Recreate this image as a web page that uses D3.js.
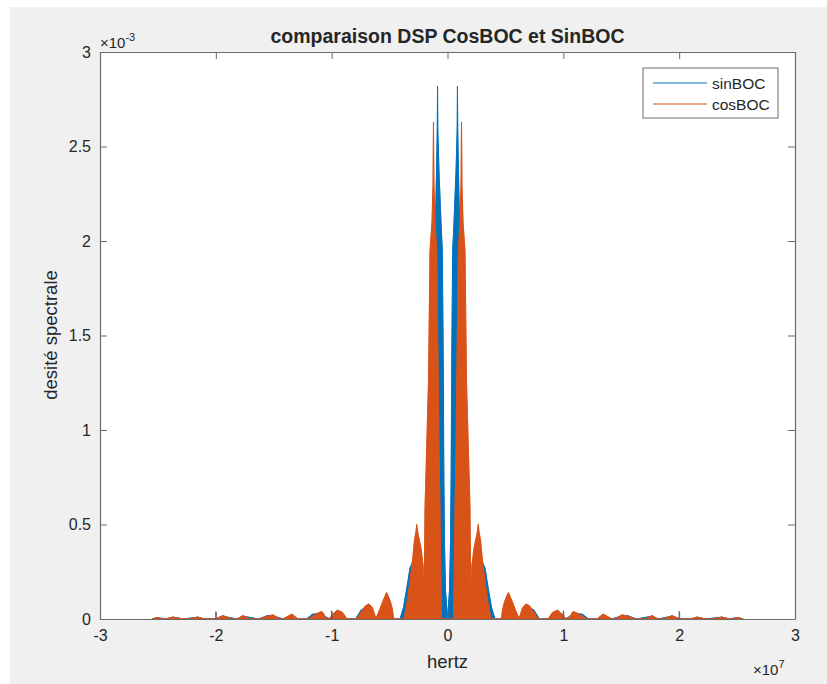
<!DOCTYPE html>
<html>
<head>
<meta charset="utf-8">
<script src="https://cdn.jsdelivr.net/npm/d3@7"></script>
<style>
  body { margin: 0; background: #ffffff; }
  text { font-family: "Liberation Sans", Arial, Helvetica, sans-serif; fill: #262626; }
</style>
</head>
<body>
<svg id="chart" width="827" height="684"></svg>
<script>
// frequency in MHz, spectral density in units of 1e-3
const sinBOC = [
    [-25.52, 0], [-25.04, 0.008], [-24.35, 0], [-23.70, 0.01], [-22.80, 0], [-21.55, 0.01], [-20.98, 0],
    [-20.08, 0], [-19.39, 0.015], [-18.18, 0], [-17.66, 0.015], [-16.32, 0], [-15.54, 0.018], [-15.07, 0.018],
    [-14.21, 0], [-13.43, 0.02], [-12.91, 0], [-12.18, 0], [-11.66, 0.025], [-11.05, 0.03], [-10.15, 0],
    [-9.50, 0.03], [-8.68, 0], [-7.94, 0], [-7.43, 0.05], [-6.91, 0.06], [-6.13, 0], [-5.70, 0.06],
    [-5.18, 0.08], [-4.66, 0], [-4.10, 0], [-3.80, 0.06], [-3.52, 0.16], [-3.24, 0.27], [-3.02, 0.3],
    [-2.76, 0.3], [-2.42, 0.15], [-2.12, 0], [-1.99, 0.1], [-1.73, 0.5], [-1.47, 1.0], [-1.21, 1.6],
    [-1.04, 2.1], [-0.95, 2.36], [-0.88, 2.6], [-0.86, 2.82], [-0.84, 2.6], [-0.73, 2.36], [-0.56, 2.1],
    [-0.45, 1.95], [-0.37, 1.4], [-0.32, 0.8], [-0.26, 0.4], [-0.17, 0.15], [0, 0],
    [0.17, 0.15], [0.26, 0.4], [0.32, 0.8], [0.37, 1.4], [0.45, 1.95], [0.56, 2.1], [0.73, 2.36],
    [0.84, 2.6], [0.86, 2.82], [0.88, 2.6], [0.95, 2.36], [1.04, 2.1], [1.21, 1.6], [1.47, 1.0],
    [1.73, 0.5], [1.99, 0.1], [2.12, 0], [2.42, 0.15], [2.76, 0.3], [3.02, 0.3], [3.24, 0.27],
    [3.52, 0.16], [3.80, 0.06], [4.10, 0], [4.66, 0], [5.18, 0.08], [5.70, 0.06], [6.13, 0],
    [6.91, 0.06], [7.43, 0.05], [7.94, 0], [8.68, 0], [9.50, 0.03], [10.15, 0], [11.05, 0.03],
    [11.66, 0.025], [12.18, 0], [12.91, 0], [13.43, 0.02], [14.21, 0], [15.07, 0.018], [15.54, 0.018],
    [16.32, 0], [17.66, 0.015], [18.18, 0], [19.39, 0.015], [20.08, 0], [20.98, 0], [21.55, 0.01],
    [22.28, 0], [23.70, 0.01], [24.35, 0], [25.04, 0.008], [25.52, 0]
]

const cosBOC = [
    [-25.52, 0], [-25.04, 0.008], [-24.61, 0], [-24.35, 0], [-23.70, 0.01], [-22.80, 0], [-22.28, 0],
    [-21.55, 0.01], [-20.98, 0], [-20.08, 0], [-19.39, 0.018], [-18.61, 0], [-18.18, 0], [-17.66, 0.018],
    [-17.06, 0], [-16.19, 0], [-15.54, 0.015], [-15.07, 0.022], [-14.46, 0], [-14.21, 0], [-13.43, 0.026],
    [-12.91, 0], [-12.05, 0], [-11.66, 0.015], [-11.23, 0.03], [-10.84, 0.04], [-10.41, 0], [-10.15, 0.005],
    [-9.84, 0.03], [-9.50, 0.047], [-9.07, 0.035], [-8.68, 0], [-7.82, 0], [-7.43, 0.04], [-7.08, 0.07],
    [-6.78, 0.08], [-6.48, 0.06], [-6.17, 0], [-6.13, 0.01], [-5.85, 0.05], [-5.6, 0.09], [-5.4, 0.12],
    [-5.27, 0.14], [-5.1, 0.12], [-4.92, 0.09], [-4.75, 0.05], [-4.66, 0], [-3.75, 0], [-3.45, 0.1],
    [-3.2, 0.22], [-3.0, 0.32], [-2.85, 0.42], [-2.72, 0.46], [-2.66, 0.50], [-2.55, 0.45], [-2.3, 0.38],
    [-2.1, 0.28], [-2.03, 0], [-2.0, 0.2], [-1.94, 0.59], [-1.64, 1.26], [-1.51, 1.95], [-1.34, 2.1],
    [-1.25, 2.3], [-1.21, 2.63], [-1.17, 2.3], [-1.08, 2.1], [-0.93, 1.95], [-0.73, 0.89], [-0.65, 0.59],
    [-0.52, 0],
    [0.52, 0], [0.65, 0.59], [0.73, 0.89], [0.93, 1.95], [1.08, 2.1], [1.17, 2.3], [1.21, 2.63],
    [1.25, 2.3], [1.34, 2.1], [1.51, 1.95], [1.64, 1.26], [1.94, 0.59], [2.0, 0.2], [2.03, 0],
    [2.1, 0.28], [2.3, 0.38], [2.55, 0.45], [2.66, 0.50], [2.72, 0.46], [2.85, 0.42], [3.0, 0.32],
    [3.2, 0.22], [3.45, 0.1], [3.75, 0], [4.66, 0], [4.75, 0.05], [4.92, 0.09], [5.1, 0.12],
    [5.27, 0.14], [5.4, 0.12], [5.6, 0.09], [5.85, 0.05], [6.13, 0.01], [6.17, 0], [6.48, 0.06],
    [6.78, 0.08], [7.08, 0.07], [7.43, 0.04], [7.82, 0], [8.68, 0], [9.07, 0.035], [9.50, 0.047],
    [9.84, 0.03], [10.15, 0.005], [10.41, 0], [10.84, 0.04], [11.23, 0.03], [11.66, 0.015], [12.05, 0],
    [12.91, 0], [13.43, 0.026], [14.21, 0], [14.46, 0], [15.07, 0.022], [15.54, 0.015], [16.19, 0],
    [17.06, 0], [17.66, 0.018], [18.18, 0], [18.61, 0], [19.39, 0.018], [20.08, 0], [20.98, 0],
    [21.55, 0.01], [22.28, 0], [22.80, 0], [23.70, 0.01], [24.35, 0], [24.61, 0], [25.04, 0.008],
    [25.52, 0]
]

// narrow lines seen at multiples of 10 MHz
const spikeFreq = [-20, -10, 10, 20]
const spikeVal = [0.04, 0.045, 0.045, 0.042]

const xTicks = [-30, -20, -10, 0, 10, 20, 30]
const yTicks = [0, 0.5, 1, 1.5, 2, 2.5, 3]
const seriesNames = ["sinBOC", "cosBOC"]
const seriesColors = ["#0072BD", "#D95319"]

const svg = d3.select("#chart")
const mLeft = 100, mRight = 795, mTop = 52, mBottom = 619

// figure background
svg.append("rect").attr("x", 10).attr("y", 7).attr("width", 817).attr("height", 677).attr("fill", "#f0f0f0")
svg.append("rect").attr("x", mLeft).attr("y", mTop).attr("width", mRight - mLeft).attr("height", mBottom - mTop).attr("fill", "#ffffff")

const x = d3.scaleLinear().domain([-30, 30]).range([mLeft, mRight])
const y = d3.scaleLinear().domain([0, 3]).range([mBottom, mTop])

svg.append("clipPath").attr("id", "clip")
    .append("rect").attr("x", mLeft).attr("y", mTop).attr("width", mRight - mLeft).attr("height", mBottom - mTop)

const plot = svg.append("g").attr("clip-path", "url(#clip)")

const area = d3.area()
    .x((d) => { return x(d[0]) })
    .y0(y(0))
    .y1((d) => { return y(d[1]) })
const line = d3.line()
    .x((d) => { return x(d[0]) })
    .y((d) => { return y(d[1]) })

;[sinBOC, cosBOC].forEach((s, i) => {
    plot.append("path")
        .datum(s)
        .attr("d", area)
        .attr("fill", seriesColors[i])
        .attr("stroke", seriesColors[i])
        .attr("stroke-width", 0.8)
        .attr("stroke-opacity", 0.7)
    plot.append("path")
        .datum(s)
        .attr("d", line)
        .attr("fill", "none")
        .attr("stroke", seriesColors[i])
        .attr("stroke-width", 1)
})

plot.selectAll(".spike")
    .data(spikeFreq)
    .enter()
    .append("line")
    .attr("class", "spike")
    .attr("x1", (d) => { return x(d) })
    .attr("x2", (d) => { return x(d) })
    .attr("y1", y(0))
    .attr("y2", (d, i) => { return y(spikeVal[i]) })
    .attr("stroke", "#3a4a5a")
    .attr("stroke-width", 1)

// axes, ticks pointing inward like matlab
const axisColor = "#6a6a6a"
const fmtX = (d) => { return d === 0 ? "0" : String(d / 10) }

const gx = svg.append("g").attr("transform", "translate(0," + mBottom + ")")
    .call(d3.axisBottom(x).tickValues(xTicks).tickFormat(fmtX).tickSizeInner(-7).tickSizeOuter(0).tickPadding(11))
const gxTop = svg.append("g").attr("transform", "translate(0," + mTop + ")")
    .call(d3.axisTop(x).tickValues(xTicks).tickFormat("").tickSizeInner(-7).tickSizeOuter(0))
const gy = svg.append("g").attr("transform", "translate(" + mLeft + ",0)")
    .call(d3.axisLeft(y).tickValues(yTicks).tickFormat((d) => { return String(d) }).tickSizeInner(-7).tickSizeOuter(0).tickPadding(9))
const gyRight = svg.append("g").attr("transform", "translate(" + mRight + ",0)")
    .call(d3.axisRight(y).tickValues(yTicks).tickFormat("").tickSizeInner(-7).tickSizeOuter(0))

;[gx, gxTop, gy, gyRight].forEach((g) => {
    g.select(".domain").attr("stroke", axisColor).attr("stroke-width", 1.2)
    g.selectAll(".tick line").attr("stroke", axisColor)
    g.selectAll(".tick text").attr("font-size", 16).attr("fill", "#262626")
        .attr("font-family", "'Liberation Sans', Arial, sans-serif")
})

// exponent labels
const e3 = svg.append("text").attr("x", 100).attr("y", 48).attr("font-size", 15)
e3.append("tspan").text("×10")
e3.append("tspan").attr("dy", -7).attr("font-size", 11).text("-3")

const e7 = svg.append("text").attr("x", 753).attr("y", 675).attr("font-size", 15)
e7.append("tspan").text("×10")
e7.append("tspan").attr("dy", -7).attr("font-size", 11).text("7")

svg.append("text")
    .attr("x", (mLeft + mRight) / 2).attr("y", 43)
    .attr("text-anchor", "middle")
    .attr("font-size", 19.5).attr("font-weight", "bold")
    .attr("fill", "#000")
    .text("comparaison DSP CosBOC et SinBOC")

svg.append("text")
    .attr("x", (mLeft + mRight) / 2).attr("y", 668)
    .attr("text-anchor", "middle")
    .attr("font-size", 18.5)
    .text("hertz")

svg.append("text")
    .attr("transform", "translate(57,335) rotate(-90)")
    .attr("text-anchor", "middle")
    .attr("font-size", 18.5)
    .text("desité spectrale")

// legend
const lg = svg.append("g")
lg.append("rect").attr("x", 643).attr("y", 68).attr("width", 135).attr("height", 50)
    .attr("fill", "#ffffff").attr("stroke", "#6a6a6a").attr("stroke-width", 1)
seriesNames.forEach((name, i) => {
    lg.append("line")
        .attr("x1", 653).attr("x2", 707)
        .attr("y1", 83 + i * 21).attr("y2", 83 + i * 21)
        .attr("stroke", seriesColors[i]).attr("stroke-width", 1)
    lg.append("text")
        .attr("x", 712).attr("y", 88.5 + i * 21)
        .attr("font-size", 15.5)
        .text(name)
})
</script>
</body>
</html>
